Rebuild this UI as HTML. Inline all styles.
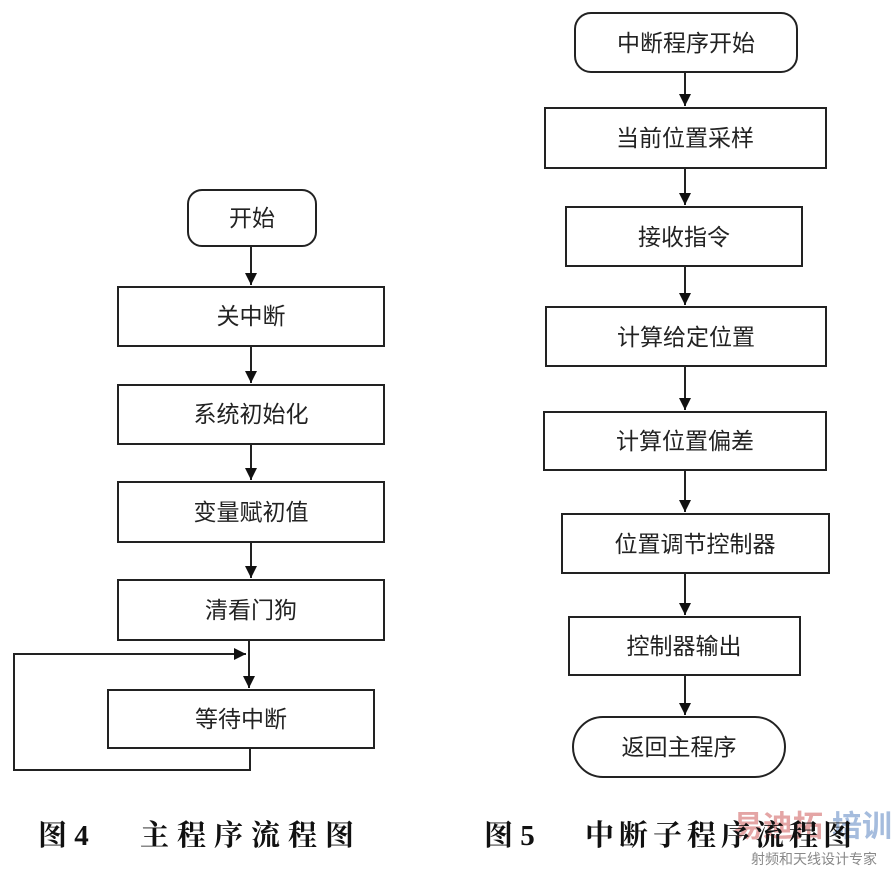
<!DOCTYPE html>
<html><head><meta charset="utf-8"><style>
html,body{margin:0;padding:0;background:#fff;}
svg{display:block;}
text{font-family:"Liberation Sans","Noto Sans CJK SC",sans-serif;font-size:23px;fill:#222;text-anchor:middle;dominant-baseline:central;}
.cap{font-family:"Liberation Serif","Noto Serif CJK SC",serif;font-size:29px;text-anchor:start;fill:#111;font-weight:bold;}
</style></head><body>
<svg width="896" height="869" viewBox="0 0 896 869" xmlns="http://www.w3.org/2000/svg">
<defs><marker id="a" markerWidth="14" markerHeight="14" refX="12" refY="6" orient="auto" markerUnits="userSpaceOnUse"><path d="M0,0 L12,6 L0,12 Z" fill="#111"/></marker></defs>
<g fill="none" stroke="#222" stroke-width="2">
<rect x="188" y="190" width="128" height="56" rx="14"/>
<rect x="118" y="287" width="266" height="59"/>
<rect x="118" y="385" width="266" height="59"/>
<rect x="118" y="482" width="266" height="60"/>
<rect x="118" y="580" width="266" height="60"/>
<rect x="108" y="690" width="266" height="58"/>
<line x1="251" y1="246" x2="251" y2="285" marker-end="url(#a)"/>
<line x1="251" y1="346" x2="251" y2="383" marker-end="url(#a)"/>
<line x1="251" y1="444" x2="251" y2="480" marker-end="url(#a)"/>
<line x1="251" y1="542" x2="251" y2="578" marker-end="url(#a)"/>
<line x1="249" y1="640" x2="249" y2="688" marker-end="url(#a)"/>
<polyline points="250,748 250,770 14,770 14,654 246,654" marker-end="url(#a)"/>
<rect x="575" y="13" width="222" height="59" rx="16"/>
<rect x="545" y="108" width="281" height="60"/>
<rect x="566" y="207" width="236" height="59"/>
<rect x="546" y="307" width="280" height="59"/>
<rect x="544" y="412" width="282" height="58"/>
<rect x="562" y="514" width="267" height="59"/>
<rect x="569" y="617" width="231" height="58"/>
<rect x="573" y="717" width="212" height="60" rx="30"/>
<line x1="685" y1="72" x2="685" y2="106" marker-end="url(#a)"/>
<line x1="685" y1="168" x2="685" y2="205" marker-end="url(#a)"/>
<line x1="685" y1="266" x2="685" y2="305" marker-end="url(#a)"/>
<line x1="685" y1="366" x2="685" y2="410" marker-end="url(#a)"/>
<line x1="685" y1="470" x2="685" y2="512" marker-end="url(#a)"/>
<line x1="685" y1="573" x2="685" y2="615" marker-end="url(#a)"/>
<line x1="685" y1="675" x2="685" y2="715" marker-end="url(#a)"/>
</g>
<text x="252" y="218">开始</text>
<text x="251" y="316">关中断</text>
<text x="251" y="414">系统初始化</text>
<text x="251" y="512">变量赋初值</text>
<text x="251" y="610">清看门狗</text>
<text x="241" y="719">等待中断</text>
<text x="686" y="43">中断程序开始</text>
<text x="685" y="138">当前位置采样</text>
<text x="684" y="237">接收指令</text>
<text x="686" y="337">计算给定位置</text>
<text x="685" y="441">计算位置偏差</text>
<text x="695" y="544">位置调节控制器</text>
<text x="684" y="646">控制器输出</text>
<text x="679" y="747">返回主程序</text>
<text x="778" y="827" style="font-size:30px;fill:#d98080;opacity:0.7;font-weight:bold">易迪拓</text>
<text x="862" y="827" style="font-size:30px;fill:#7fa0d0;opacity:0.7;font-weight:bold">培训</text>
<text class="cap" x="38" y="836">图 4</text>
<text class="cap" x="140" y="836" style="letter-spacing:8px">主程序流程图</text>
<text class="cap" x="484" y="836">图 5</text>
<text class="cap" x="585" y="836" style="letter-spacing:5px">中断子程序流程图</text>
<text x="814" y="859" style="font-size:14px;fill:#888">射频和天线设计专家</text>
</svg>
</body></html>
